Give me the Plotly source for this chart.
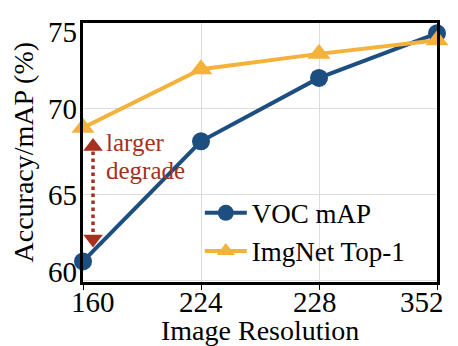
import plotly.graph_objects as go

resolutions = ["160", "224", "228", "352"]
voc_map = [61.1, 68.1, 71.8, 74.4]
imgnet_top1 = [68.9, 72.3, 73.2, 74.0]
y_ticks = [60, 65, 70, 75]
arrow_y = [62.4, 67.8]

xi = list(range(len(resolutions)))
FONT = "Liberation Serif"
BLUE = "#1d4e80"
ORANGE = "#f5b23a"
RED = "#a8301e"

fig = go.Figure()
fig.add_trace(go.Scatter(
    x=xi, y=voc_map, name="VOC mAP", mode="lines+markers",
    line=dict(color=BLUE, width=4),
    marker=dict(symbol="circle", size=18, color=BLUE),
    cliponaxis=False))
fig.add_trace(go.Scatter(
    x=xi, y=imgnet_top1, name="ImgNet Top-1", mode="lines+markers",
    line=dict(color=ORANGE, width=4),
    marker=dict(symbol="triangle-up", size=20, color=ORANGE),
    cliponaxis=False))

# dotted double arrow
fig.add_trace(go.Scatter(
    x=[0.085, 0.085], y=arrow_y, mode="lines",
    line=dict(color=RED, width=3.5, dash="dot"),
    showlegend=False, hoverinfo="skip"))
fig.add_trace(go.Scatter(
    x=[0.085, 0.085], y=arrow_y, mode="markers",
    marker=dict(symbol=["triangle-down", "triangle-up"], size=17, color=RED),
    showlegend=False, hoverinfo="skip"))

ann = []
shifts_y = {60: 8, 65: 0, 70: 0, 75: -9}
for v in y_ticks:
    ann.append(dict(x=0, xref="paper", y=v, yref="y", text=str(v),
                    showarrow=False, xanchor="right", yanchor="middle",
                    xshift=-4, yshift=shifts_y[v],
                    font=dict(family=FONT, size=29, color="black")))
shifts_x = [10, 0, -4, -15]
for i, lab in enumerate(resolutions):
    ann.append(dict(x=i, xref="x", y=0, yref="paper", text=lab,
                    showarrow=False, xanchor="center", yanchor="top",
                    xshift=shifts_x[i], yshift=-2,
                    font=dict(family=FONT, size=29, color="black")))
ann.append(dict(x=0.5, xref="paper", y=0, yref="paper", text="Image Resolution",
                showarrow=False, xanchor="center", yanchor="top", yshift=-31,
                font=dict(family=FONT, size=28, color="black")))
ann.append(dict(x=0, xref="paper", y=0.5, yref="paper", text="Accuracy/mAP (%)",
                showarrow=False, textangle=-90, xanchor="center", yanchor="middle",
                xshift=-60,
                font=dict(family=FONT, size=28, color="black")))
ann.append(dict(x=0.2, xref="x", y=68.3, yref="y", text="larger",
                showarrow=False, xanchor="left", yanchor="middle",
                xshift=-3, yshift=-5,
                font=dict(family=FONT, size=25, color=RED)))
ann.append(dict(x=0.2, xref="x", y=68.3, yref="y", text="degrade",
                showarrow=False, xanchor="left", yanchor="middle",
                xshift=-3, yshift=-33,
                font=dict(family=FONT, size=25, color=RED)))

fig.update_layout(
    width=458, height=346,
    margin=dict(l=83, r=21, t=23, b=64),
    plot_bgcolor="white", paper_bgcolor="white",
    font=dict(family=FONT, size=26, color="black"),
    showlegend=True,
    legend=dict(x=0.33, y=0.36, xanchor="left", yanchor="top",
                bgcolor="rgba(0,0,0,0)", font=dict(family=FONT, size=27),
                tracegroupgap=0, itemwidth=42),
    annotations=ann,
)
fig.update_xaxes(range=[0, 3], tickvals=xi, showticklabels=False,
                 showgrid=True, gridcolor="#dcdcdc", gridwidth=1,
                 showline=True, linecolor="black", linewidth=2.5, mirror=True,
                 ticks="outside", ticklen=5, tickcolor="black", zeroline=False)
fig.update_yaxes(range=[59.9, 75], tickvals=y_ticks, showticklabels=False,
                 showgrid=True, gridcolor="#dcdcdc", gridwidth=1,
                 showline=True, linecolor="black", linewidth=2.5, mirror=True,
                 ticks="", zeroline=False)

fig.write_html("out.html")
